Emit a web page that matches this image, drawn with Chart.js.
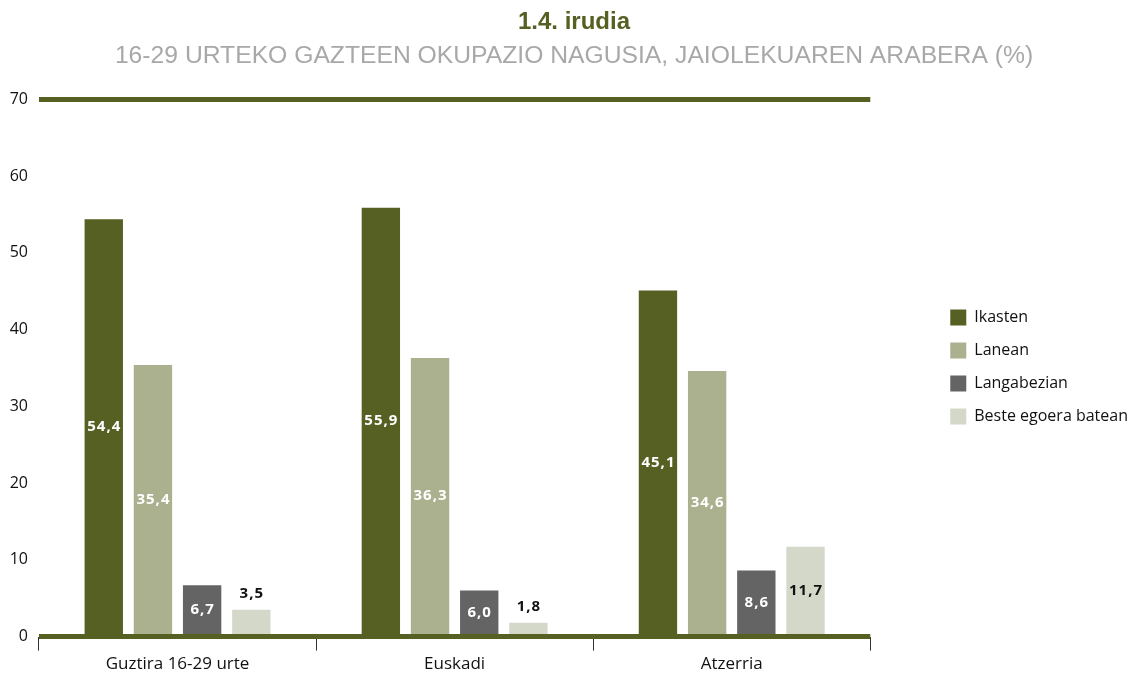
<!DOCTYPE html>
<html>
<head>
<meta charset="utf-8">
<script src="https://cdn.jsdelivr.net/npm/chart.js"></script>
<style>
  html, body { margin: 0; padding: 0; background: #fff; }
  #wrap { width: 1138px; height: 673px; }
</style>
</head>
<body>
<div id="wrap"><canvas id="okupazioChart"></canvas></div>
<script>
// --- DATA ---
const categories = ['Guztira 16-29 urte', 'Euskadi', 'Atzerria'];
const seriesNames = ['Ikasten', 'Lanean', 'Langabezian', 'Beste egoera batean'];
const ikasten = [54.4, 55.9, 45.1];
const lanean = [35.4, 36.3, 34.6];
const langabezian = [6.7, 6.0, 8.6];
const besteEgoera = [3.5, 1.8, 11.7];
const yTicks = [0, 10, 20, 30, 40, 50, 60, 70];

const colors = ['#556022', '#abb18f', '#646464', '#d4d8c9'];
const labelColors = ['#ffffff', '#ffffff', '#ffffff', '#111111'];
const olive = '#556022';
const labelFont = '"Open Sans", "DejaVu Sans", sans-serif';

// Balioen etiketak barren gainean
const valueLabels = {
    id: 'valueLabels',
    afterDatasetsDraw(chart) {
        const ctx = chart.ctx;
        ctx.save();
        ctx.font = 'bold 15px ' + labelFont;
        ctx.letterSpacing = '1px';
        ctx.textAlign = 'center';
        ctx.textBaseline = 'middle';
        chart.data.datasets.forEach((ds, di) => {
            chart.getDatasetMeta(di).data.forEach((bar, i) => {
                const v = ds.data[i];
                const txt = v.toFixed(1).replace('.', ',');
                if (v < 5) {
                    ctx.fillStyle = '#111111';
                    ctx.fillText(txt, bar.x + 0.5, bar.y - 16);
                } else {
                    ctx.fillStyle = labelColors[di];
                    ctx.fillText(txt, bar.x + 0.5, (bar.y + bar.base) / 2);
                }
            });
        });
        ctx.restore();
    }
};

const seriesData = [ikasten, lanean, langabezian, besteEgoera];

new Chart(document.getElementById('okupazioChart'), {
    type: 'bar',
    data: {
        labels: categories,
        datasets: seriesNames.map((name, k) => ({
            label: name,
            data: seriesData[k],
            backgroundColor: colors[k],
            borderWidth: 0,
            categoryPercentage: 0.71,
            barPercentage: 0.78
        }))
    },
    options: {
        responsive: true,
        maintainAspectRatio: false,
        animation: false,
        layout: { padding: { left: 10, right: 0, top: 0, bottom: -4 } },
        plugins: {
            title: {
                display: true,
                text: '1.4. irudia',
                color: olive,
                font: { family: '"Liberation Sans", Arial, sans-serif', size: 24, weight: 'bold' },
                padding: { top: 8, bottom: 5 }
            },
            subtitle: {
                display: true,
                text: '16-29 URTEKO GAZTEEN OKUPAZIO NAGUSIA, JAIOLEKUAREN ARABERA (%)',
                color: '#a8a8a8',
                font: { family: '"Liberation Sans", Arial, sans-serif', size: 24.7, weight: 'normal' },
                padding: { top: 0, bottom: 28 }
            },
            legend: {
                position: 'right',
                align: 'center',
                maxWidth: 240,
                title: {
                    display: true,
                    text: ' ',
                    font: { size: 10 },
                    padding: { top: 0, bottom: 45 }
                },
                labels: {
                    boxWidth: 16,
                    boxHeight: 16,
                    padding: 17,
                    color: '#111',
                    font: { family: labelFont, size: 16 }
                }
            },
            tooltip: { enabled: false }
        },
        scales: {
            x: {
                grid: {
                    offset: true,
                    drawOnChartArea: false,
                    drawTicks: true,
                    tickLength: 14,
                    color: '#333',
                    lineWidth: 1
                },
                border: { display: false },
                ticks: {
                    color: '#111',
                    padding: 3,
                    font: { family: labelFont, size: 17 }
                }
            },
            y: {
                min: 0,
                max: 70,
                afterBuildTicks: scale => {
                    scale.ticks = yTicks.map(v => ({ value: v }));
                },
                afterFit: scale => { scale.width = 29; },
                grid: {
                    drawTicks: false,
                    color: ctx => (ctx.tick && (ctx.tick.value === 0 || ctx.tick.value === 70)) ? olive : 'rgba(0,0,0,0)',
                    lineWidth: ctx => (ctx.tick && (ctx.tick.value === 0 || ctx.tick.value === 70)) ? 5 : 0
                },
                border: { display: false },
                ticks: {
                    color: '#111',
                    padding: 11,
                    font: { family: labelFont, size: 16 }
                }
            },
            // prazko ardatza: eskuineko tartea legendaren aurretik
            gap: {
                position: 'right',
                display: true,
                grid: { display: false },
                border: { display: false },
                ticks: { display: false },
                afterFit: scale => { scale.width = 63; }
            }
        }
    },
    plugins: [valueLabels]
});
</script>
</body>
</html>
